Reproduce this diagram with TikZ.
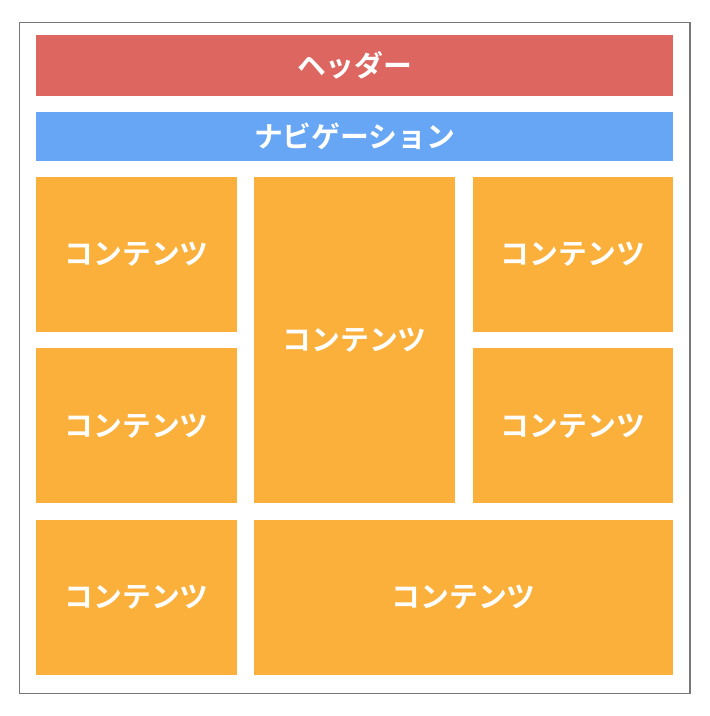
\documentclass[tikz,border=0pt]{standalone}
\usepackage{fontspec}
\usepackage{xcolor}
\usepackage{tikz}
\usetikzlibrary{positioning}
\newfontfamily\cjk{Noto Sans CJK JP}[BoldFont={Noto Sans CJK JP Bold}]
\definecolor{headred}{HTML}{DD6760}
\definecolor{navblue}{HTML}{67A6F4}
\definecolor{boxorange}{HTML}{FBB03B}
\definecolor{framegray}{HTML}{777777}

\begin{document}
\begin{tikzpicture}[x=0.01cm,y=-0.01cm,
  every node/.style={inner sep=0pt,text=white,font=\cjk\bfseries\fontsize{8.2pt}{10pt}\selectfont},
  bar/.style={minimum width=6.365cm},
  cell/.style={fill=boxorange,minimum width=2.005cm,minimum height=1.55cm}]
\useasboundingbox (0,0) rectangle (710,716);
\draw[framegray,line width=0.4pt] (19.5,22.3) rectangle (690,693.3);
% header and navigation
\node[bar,fill=headred,minimum height=0.61cm] (header) at (354.75,65.5) {ヘッダー};
\node[bar,fill=navblue,minimum height=0.49cm] (nav) at (354.75,136.5) {ナビゲーション};
% content cells
\node[cell] (c1) at (136.6,254.2) {コンテンツ};
\node[cell] (c2) at (136.6,425.8) {コンテンツ};
\node[cell] (c3) at (136.6,597.5) {コンテンツ};
\node[cell,minimum height=3.266cm] (c4) at (354.65,340) {コンテンツ};
\node[cell] (c5) at (572.85,254.2) {コンテンツ};
\node[cell] (c6) at (572.85,425.8) {コンテンツ};
\node[cell,minimum width=4.187cm] (c7) at (463.65,597.5) {コンテンツ};
\end{tikzpicture}
\end{document}
